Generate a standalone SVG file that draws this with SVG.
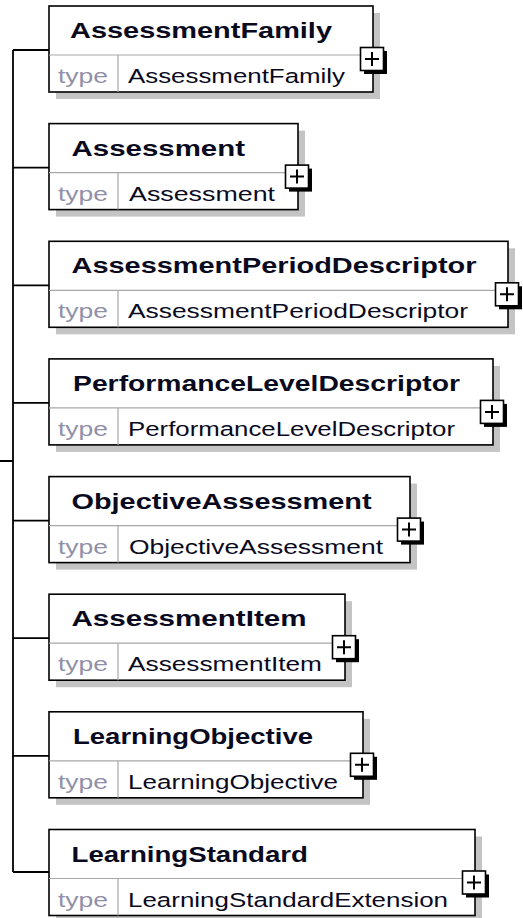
<svg xmlns="http://www.w3.org/2000/svg" width="523" height="918" viewBox="0 0 523 918">
<style>
.sh{fill:#c4c4c4}
.bx{fill:#fff;stroke:#000;stroke-width:1.6}
.dv{stroke:#a8a8a8;stroke-width:1.2;fill:none}
.hd{font-family:"Liberation Sans",Arial,sans-serif;font-weight:bold;font-size:22.5px;fill:#0a0a1e}
.tl{font-family:"Liberation Sans",Arial,sans-serif;font-size:20.5px;fill:#9090a8}
.tv{font-family:"Liberation Sans",Arial,sans-serif;font-size:20.5px;fill:#0a0a1e}
.pb{fill:#fff;stroke:#000;stroke-width:1.6}
.ps{fill:#000}
.pl{stroke:#000;stroke-width:2}
.cn{stroke:#000;stroke-width:1.8;fill:none}
</style>
<defs>
<g id="plus">
<rect class="ps" x="-8" y="-8" width="23" height="23"/>
<rect class="pb" x="-11.5" y="-11.5" width="23" height="23"/>
<path class="pl" d="M-7,0H7M0,-7V7"/>
</g>
</defs>
<g id="connectors">
<path class="cn" d="M0,461H13M13,50V872M13,50H49M13,167.6H49M13,285.3H49M13,402.9H49M13,520.6H49M13,638.2H49M13,755.8H49M13,872H49"/>
</g>
<g id="n1">
<rect class="sh" x="56" y="13" width="324" height="86"/>
<rect class="bx" x="49" y="6" width="324" height="86"/>
<path class="dv" d="M49,55H373M118,55V92"/>
<text class="hd" x="70" y="38" textLength="262" lengthAdjust="spacingAndGlyphs">AssessmentFamily</text>
<text class="tl" x="58" y="83" textLength="50" lengthAdjust="spacingAndGlyphs">type</text>
<text class="tv" x="128" y="83" textLength="217" lengthAdjust="spacingAndGlyphs">AssessmentFamily</text>
<use href="#plus" x="372" y="59"/>
</g>
<g id="n2">
<rect class="sh" x="56" y="130.6" width="249" height="86"/>
<rect class="bx" x="49" y="123.6" width="249" height="86"/>
<path class="dv" d="M49,172.6H298M118,172.6V209.6"/>
<text class="hd" x="71.5" y="155.6" textLength="173.5" lengthAdjust="spacingAndGlyphs">Assessment</text>
<text class="tl" x="58" y="200.6" textLength="50" lengthAdjust="spacingAndGlyphs">type</text>
<text class="tv" x="129" y="200.6" textLength="146" lengthAdjust="spacingAndGlyphs">Assessment</text>
<use href="#plus" x="297" y="176.6"/>
</g>
<g id="n3">
<rect class="sh" x="56" y="248.3" width="459" height="86"/>
<rect class="bx" x="49" y="241.3" width="459" height="86"/>
<path class="dv" d="M49,290.3H508M118,290.3V327.3"/>
<text class="hd" x="71.5" y="273.3" textLength="405" lengthAdjust="spacingAndGlyphs">AssessmentPeriodDescriptor</text>
<text class="tl" x="58" y="318.3" textLength="50" lengthAdjust="spacingAndGlyphs">type</text>
<text class="tv" x="128" y="318.3" textLength="340" lengthAdjust="spacingAndGlyphs">AssessmentPeriodDescriptor</text>
<use href="#plus" x="507" y="294.3"/>
</g>
<g id="n4">
<rect class="sh" x="56" y="365.9" width="444" height="86"/>
<rect class="bx" x="49" y="358.9" width="444" height="86"/>
<path class="dv" d="M49,407.9H493M118,407.9V444.9"/>
<text class="hd" x="73" y="390.9" textLength="387" lengthAdjust="spacingAndGlyphs">PerformanceLevelDescriptor</text>
<text class="tl" x="58" y="435.9" textLength="50" lengthAdjust="spacingAndGlyphs">type</text>
<text class="tv" x="128" y="435.9" textLength="327" lengthAdjust="spacingAndGlyphs">PerformanceLevelDescriptor</text>
<use href="#plus" x="492" y="411.9"/>
</g>
<g id="n5">
<rect class="sh" x="56" y="483.6" width="361" height="86"/>
<rect class="bx" x="49" y="476.6" width="361" height="86"/>
<path class="dv" d="M49,525.6H410M118,525.6V562.6"/>
<text class="hd" x="71.5" y="508.6" textLength="300" lengthAdjust="spacingAndGlyphs">ObjectiveAssessment</text>
<text class="tl" x="58" y="553.6" textLength="50" lengthAdjust="spacingAndGlyphs">type</text>
<text class="tv" x="129" y="553.6" textLength="254" lengthAdjust="spacingAndGlyphs">ObjectiveAssessment</text>
<use href="#plus" x="409" y="529.6"/>
</g>
<g id="n6">
<rect class="sh" x="56" y="601.2" width="296" height="86"/>
<rect class="bx" x="49" y="594.2" width="296" height="86"/>
<path class="dv" d="M49,643.2H345M118,643.2V680.2"/>
<text class="hd" x="71.5" y="626.2" textLength="235" lengthAdjust="spacingAndGlyphs">AssessmentItem</text>
<text class="tl" x="58" y="671.2" textLength="50" lengthAdjust="spacingAndGlyphs">type</text>
<text class="tv" x="128" y="671.2" textLength="194" lengthAdjust="spacingAndGlyphs">AssessmentItem</text>
<use href="#plus" x="344" y="647.2"/>
</g>
<g id="n7">
<rect class="sh" x="56" y="718.8" width="314" height="86"/>
<rect class="bx" x="49" y="711.8" width="314" height="86"/>
<path class="dv" d="M49,760.8H363M118,760.8V797.8"/>
<text class="hd" x="73" y="743.8" textLength="240" lengthAdjust="spacingAndGlyphs">LearningObjective</text>
<text class="tl" x="58" y="788.8" textLength="50" lengthAdjust="spacingAndGlyphs">type</text>
<text class="tv" x="128" y="788.8" textLength="210" lengthAdjust="spacingAndGlyphs">LearningObjective</text>
<use href="#plus" x="362" y="764.8"/>
</g>
<g id="n8">
<rect class="sh" x="56" y="836.5" width="426" height="86"/>
<rect class="bx" x="49" y="829.5" width="426" height="86"/>
<path class="dv" d="M49,878.5H475M118,878.5V915.5"/>
<text class="hd" x="71.5" y="861.5" textLength="236.5" lengthAdjust="spacingAndGlyphs">LearningStandard</text>
<text class="tl" x="58" y="906.5" textLength="50" lengthAdjust="spacingAndGlyphs">type</text>
<text class="tv" x="128" y="906.5" textLength="320" lengthAdjust="spacingAndGlyphs">LearningStandardExtension</text>
<use href="#plus" x="474" y="882.5"/>
</g>
</svg>
